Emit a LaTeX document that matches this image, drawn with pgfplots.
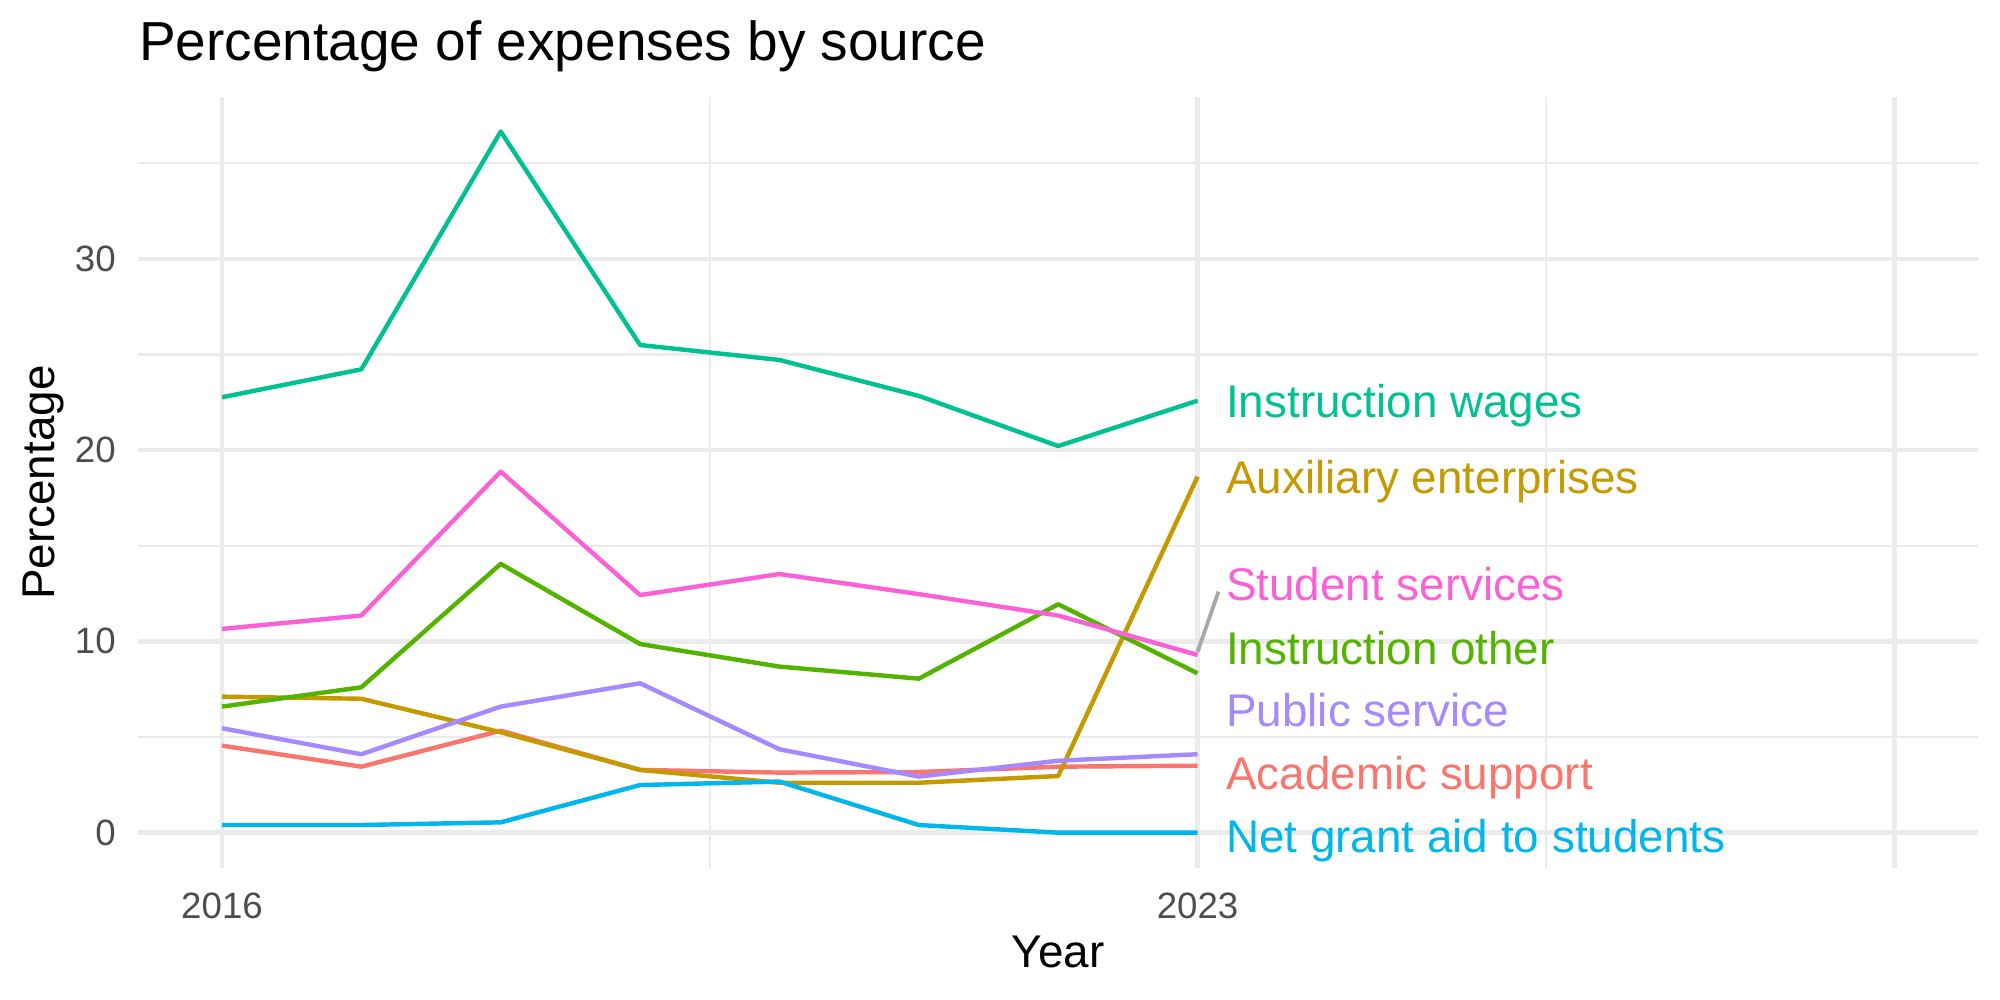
\documentclass[border=0pt]{standalone}
\usepackage{fontspec}
\setmainfont{Liberation Sans}
\usepackage{pgfplots}
\usepackage{pgfplotstable}
\pgfplotsset{compat=1.18}

\definecolor{cAcad}{HTML}{F8766D}
\definecolor{cAux}{HTML}{C49A00}
\definecolor{cInstO}{HTML}{53B400}
\definecolor{cWages}{HTML}{00C094}
\definecolor{cGrant}{HTML}{00B6EB}
\definecolor{cPub}{HTML}{A58AFF}
\definecolor{cStud}{HTML}{FB61D7}
\definecolor{gridc}{HTML}{EBEBEB}
\definecolor{tickc}{HTML}{4D4D4D}
\definecolor{segc}{HTML}{A9A9A9}

\tikzset{lbl/.style={anchor=west, inner sep=0pt, text height=9.34pt, text depth=0pt, font=\fontsize{13.04}{15}\selectfont}}

% Share of expenses (%) by source, per year
\pgfplotstableread{
year acad  aux   instoth wages grant pub  stud
2016 4.55  7.11  6.59    22.76 0.40  5.46 10.65
2017 3.45  7.00  7.60    24.22 0.40  4.10 11.35
2018 5.33  5.25  14.05   36.65 0.54  6.59 18.87
2019 3.28  3.28  9.86    25.49 2.49  7.81 12.42
2020 3.14  2.61  8.68    24.71 2.67  4.36 13.52
2021 3.17  2.61  8.05    22.83 0.40  2.93 12.47
2022 3.45  2.96  11.94   20.21 0.00  3.76 11.35
2023 3.50  18.61 8.33    22.58 0.00  4.10 9.29
}\expenses

\begin{document}
\begin{tikzpicture}
\path[use as bounding box] (0,0) rectangle (20,10);
\begin{axis}[
  at={(1.384cm,1.323cm)}, anchor=south west,
  scale only axis, width=18.396cm, height=7.702cm,
  xmin=2015.4, xmax=2028.6, ymin=-1.83, ymax=38.43,
  axis line style={draw=none}, tick style={draw=none},
  major tick length=0pt, minor tick length=0pt,
  xtick={2016,2023,2028}, xticklabels={2016,2023,{}},
  minor xtick={2019.5,2025.5},
  ytick={0,10,20,30}, yticklabels={0,10,20,30},
  minor ytick={5,15,25,35},
  grid=both,
  major grid style={color=gridc, line width=1.26pt},
  minor grid style={color=gridc, line width=0.63pt},
  xticklabel style={font=\fontsize{10.43}{12}\selectfont, text=tickc, inner sep=0pt, anchor=north, yshift=-0.25cm},
  yticklabel style={font=\fontsize{10.43}{12}\selectfont, text=tickc, inner sep=0pt, anchor=east, xshift=-0.22cm},
  clip=false,
  every axis plot/.append style={line width=1.26pt, line join=round, mark=none},
]
\addplot[cAcad]  table[x=year,y=acad]{\expenses};
\addplot[cAux]   table[x=year,y=aux]{\expenses};
\addplot[cInstO] table[x=year,y=instoth]{\expenses};
\addplot[cWages] table[x=year,y=wages]{\expenses};
\addplot[cGrant] table[x=year,y=grant]{\expenses};
\addplot[cPub]   table[x=year,y=pub]{\expenses};
\addplot[cStud]  table[x=year,y=stud]{\expenses};

% leader line from the last point to its moved label
\addplot[segc, line width=1.1pt] coordinates {(2023.0,9.45) (2023.15,12.6)};

\node[lbl, text=cWages] at (axis cs:2023.2,22.56) {Instruction wages};
\node[lbl, text=cAux]   at (axis cs:2023.2,18.6)  {Auxiliary enterprises};
\node[lbl, text=cStud]  at (axis cs:2023.2,12.97) {Student services};
\node[lbl, text=cInstO] at (axis cs:2023.2,9.65)  {Instruction other};
\node[lbl, text=cPub]   at (axis cs:2023.2,6.4)   {Public service};
\node[lbl, text=cAcad]  at (axis cs:2023.2,3.09)  {Academic support};
\node[lbl, text=cGrant] at (axis cs:2023.2,-0.2)  {Net grant aid to students};
\end{axis}

\node[anchor=base west, inner sep=0pt, font=\fontsize{15.65}{18}\selectfont] at (1.384cm,9.39cm) {Percentage of expenses by source};
\node[anchor=base, inner sep=0pt, font=\fontsize{13.04}{15}\selectfont] at (10.582cm,0.32cm) {Year};
\node[rotate=90, anchor=base, inner sep=0pt, font=\fontsize{13.04}{15}\selectfont] at (0.55cm,5.174cm) {Percentage};
\end{tikzpicture}
\end{document}
